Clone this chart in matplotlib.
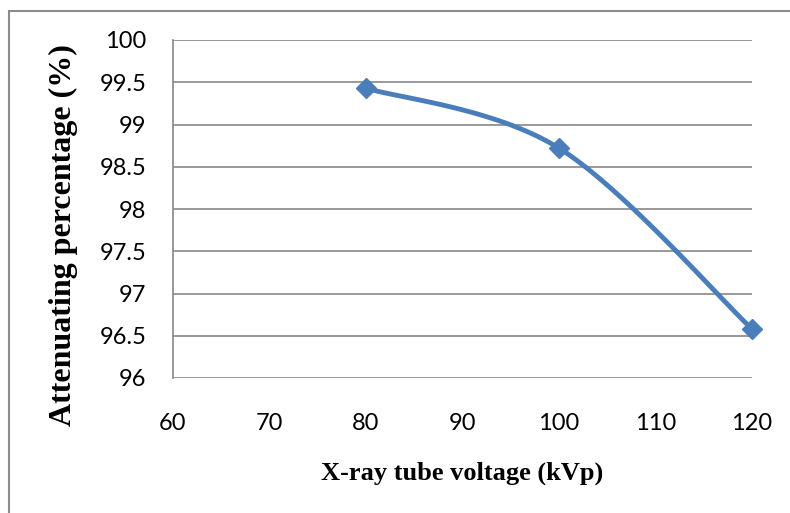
import numpy as np
import matplotlib
matplotlib.use("Agg")
import matplotlib.pyplot as plt
from matplotlib.patches import Rectangle

# data
voltage = [80, 100, 120]
attenuation = [99.43, 98.72, 96.58]
x_ticks = [60, 70, 80, 90, 100, 110, 120]
y_ticks = [96, 96.5, 97, 97.5, 98, 98.5, 99, 99.5, 100]
y_tick_labels = ["96", "96.5", "97", "97.5", "98", "98.5", "99", "99.5", "100"]


def smooth_curve(xs, ys, n=60):
    # Excel-like smoothed line: cubic bezier segments, catmull-rom control points
    pts = np.column_stack([xs, ys]).astype(float)
    ext = np.vstack([pts[0], pts, pts[-1]])
    out = []
    for i in range(len(pts) - 1):
        p0, p1 = ext[i + 1], ext[i + 2]
        c1 = p0 + (ext[i + 2] - ext[i]) / 6.0
        c2 = p1 - (ext[i + 3] - ext[i + 1]) / 6.0
        t = np.linspace(0, 1, n)[:, None]
        seg = ((1 - t) ** 3) * p0 + 3 * ((1 - t) ** 2) * t * c1 + 3 * (1 - t) * t ** 2 * c2 + t ** 3 * p1
        out.append(seg if i == 0 else seg[1:])
    res = np.vstack(out)
    return res[:, 0], res[:, 1]


fig = plt.figure(figsize=(7.9, 5.13), dpi=100)
ax = fig.add_axes([173 / 790, 1 - 378 / 513, (752 - 173) / 790, (378 - 40) / 513])

grid_col = "#878787"
line_col = "#4a7ebb"

sx, sy = smooth_curve(voltage, attenuation)
ax.plot(sx, sy, color=line_col, lw=3.5, solid_capstyle="round", zorder=3,
        clip_on=False)
ax.plot(voltage, attenuation, linestyle="none", marker="D", ms=10,
        color=line_col, zorder=4, clip_on=False)

ax.set_xlim(60, 120)
ax.set_ylim(96, 100)
ax.set_xticks(x_ticks)
ax.set_yticks(y_ticks)
ax.set_yticklabels(y_tick_labels)
ax.tick_params(length=0, labelsize=17, colors="black")
ax.tick_params(axis="x", pad=25)
ax.tick_params(axis="y", pad=19)
for lab in ax.get_xticklabels() + ax.get_yticklabels():
    lab.set_family(["Lato", "DejaVu Sans"])

ax.yaxis.grid(True, color=grid_col, lw=1.2)
ax.set_axisbelow(True)
for side in ["top", "right", "bottom"]:
    ax.spines[side].set_visible(False)
ax.spines["left"].set_color(grid_col)
ax.spines["left"].set_linewidth(1.2)

ax.set_xlabel("X-ray tube voltage (kVp)", fontsize=19, fontweight="bold",
              family="Liberation Serif")
ax.xaxis.set_label_coords(0.5, -(473 - 378) / (378 - 40), transform=ax.transAxes)
ax.xaxis.label.set_va("center")
ax.set_ylabel("Attenuating percentage (%)", fontsize=23, fontweight="bold",
              family="Liberation Serif")
ax.yaxis.set_label_coords(-(173 - 63) / (752 - 173), (378 - 235) / (378 - 40),
                          transform=ax.transAxes)
ax.yaxis.label.set_va("center")

# chart area border, running off the right and bottom edges
fig.patches.append(Rectangle((9 / 790, -0.1), 1.2, 1 - 11 / 513 + 0.1,
                             transform=fig.transFigure, fill=False,
                             edgecolor="#8c8c8c", lw=1.5))

fig.savefig("out.png", dpi=100)
